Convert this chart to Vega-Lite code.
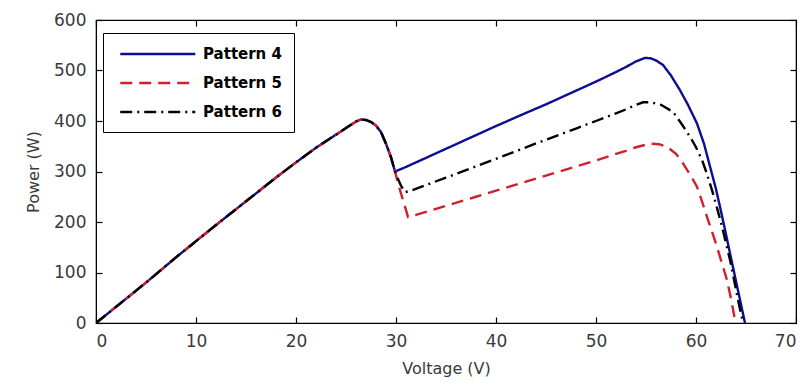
{
  "$schema": "https://vega.github.io/schema/vega-lite/v6.json",
  "width": 700,
  "height": 303,
  "autosize": {"type": "none"},
  "padding": {"left": 96, "top": 20, "right": 12, "bottom": 60},
  "background": "white",
  "config": {
    "view": {"stroke": "#000", "strokeWidth": 1.2},
    "font": "DejaVu Sans",
    "axis": {
      "grid": false,
      "domainColor": "#000",
      "tickColor": "#000",
      "ticks": true,
      "tickSize": -6,
      "tickWidth": 1.2,
      "labelFont": "DejaVu Sans",
      "labelFontSize": 17,
      "labelColor": "#3a3a3a",
      "titleFont": "DejaVu Sans",
      "titleFontSize": 16,
      "titleFontWeight": "normal",
      "titleColor": "#3a3a3a"
    }
  },
  "datasets": {
    "pv": [
      {"s": "Pattern 4", "V": 0, "P": 0}, {"s": "Pattern 4", "V": 2, "P": 32}, {"s": "Pattern 4", "V": 5, "P": 80}, {"s": "Pattern 4", "V": 8, "P": 130}, {"s": "Pattern 4", "V": 10, "P": 162}, {"s": "Pattern 4", "V": 12, "P": 194}, {"s": "Pattern 4", "V": 15, "P": 241}, {"s": "Pattern 4", "V": 18, "P": 288}, {"s": "Pattern 4", "V": 20, "P": 318}, {"s": "Pattern 4", "V": 22, "P": 347}, {"s": "Pattern 4", "V": 24, "P": 373}, {"s": "Pattern 4", "V": 25, "P": 386}, {"s": "Pattern 4", "V": 26, "P": 399}, {"s": "Pattern 4", "V": 26.5, "P": 403}, {"s": "Pattern 4", "V": 27, "P": 402}, {"s": "Pattern 4", "V": 27.5, "P": 398}, {"s": "Pattern 4", "V": 28, "P": 391}, {"s": "Pattern 4", "V": 28.5, "P": 378}, {"s": "Pattern 4", "V": 29, "P": 355}, {"s": "Pattern 4", "V": 29.5, "P": 328}, {"s": "Pattern 4", "V": 29.9, "P": 300},
      {"s": "Pattern 4", "V": 31, "P": 309}, {"s": "Pattern 4", "V": 33, "P": 327}, {"s": "Pattern 4", "V": 35, "P": 345}, {"s": "Pattern 4", "V": 38, "P": 372}, {"s": "Pattern 4", "V": 40, "P": 390}, {"s": "Pattern 4", "V": 43, "P": 416}, {"s": "Pattern 4", "V": 45, "P": 433}, {"s": "Pattern 4", "V": 48, "P": 460}, {"s": "Pattern 4", "V": 50, "P": 478}, {"s": "Pattern 4", "V": 52, "P": 497}, {"s": "Pattern 4", "V": 53, "P": 507}, {"s": "Pattern 4", "V": 54, "P": 518}, {"s": "Pattern 4", "V": 54.9, "P": 525}, {"s": "Pattern 4", "V": 55.5, "P": 524}, {"s": "Pattern 4", "V": 56, "P": 520}, {"s": "Pattern 4", "V": 56.7, "P": 511}, {"s": "Pattern 4", "V": 57.5, "P": 490}, {"s": "Pattern 4", "V": 58.4, "P": 461}, {"s": "Pattern 4", "V": 59.2, "P": 432}, {"s": "Pattern 4", "V": 60.1, "P": 395}, {"s": "Pattern 4", "V": 60.8, "P": 355}, {"s": "Pattern 4", "V": 61.4, "P": 310}, {"s": "Pattern 4", "V": 62, "P": 265}, {"s": "Pattern 4", "V": 62.4, "P": 230}, {"s": "Pattern 4", "V": 62.9, "P": 185}, {"s": "Pattern 4", "V": 63.4, "P": 138}, {"s": "Pattern 4", "V": 63.9, "P": 92}, {"s": "Pattern 4", "V": 64.4, "P": 46}, {"s": "Pattern 4", "V": 64.9, "P": 0},

      {"s": "Pattern 5", "V": 0, "P": 0}, {"s": "Pattern 5", "V": 2, "P": 32}, {"s": "Pattern 5", "V": 5, "P": 80}, {"s": "Pattern 5", "V": 8, "P": 130}, {"s": "Pattern 5", "V": 10, "P": 162}, {"s": "Pattern 5", "V": 12, "P": 194}, {"s": "Pattern 5", "V": 15, "P": 241}, {"s": "Pattern 5", "V": 18, "P": 288}, {"s": "Pattern 5", "V": 20, "P": 318}, {"s": "Pattern 5", "V": 22, "P": 347}, {"s": "Pattern 5", "V": 24, "P": 373}, {"s": "Pattern 5", "V": 25, "P": 386}, {"s": "Pattern 5", "V": 26, "P": 399}, {"s": "Pattern 5", "V": 26.5, "P": 403}, {"s": "Pattern 5", "V": 27, "P": 402}, {"s": "Pattern 5", "V": 27.5, "P": 398}, {"s": "Pattern 5", "V": 28, "P": 391}, {"s": "Pattern 5", "V": 28.5, "P": 378}, {"s": "Pattern 5", "V": 29, "P": 355}, {"s": "Pattern 5", "V": 29.5, "P": 328}, {"s": "Pattern 5", "V": 29.9, "P": 300},
      {"s": "Pattern 5", "V": 30.1, "P": 285}, {"s": "Pattern 5", "V": 30.4, "P": 263}, {"s": "Pattern 5", "V": 30.8, "P": 237}, {"s": "Pattern 5", "V": 31.2, "P": 210}, {"s": "Pattern 5", "V": 32, "P": 214}, {"s": "Pattern 5", "V": 33, "P": 220}, {"s": "Pattern 5", "V": 35, "P": 232}, {"s": "Pattern 5", "V": 38, "P": 250}, {"s": "Pattern 5", "V": 40, "P": 262}, {"s": "Pattern 5", "V": 43, "P": 280}, {"s": "Pattern 5", "V": 45, "P": 292}, {"s": "Pattern 5", "V": 48, "P": 310}, {"s": "Pattern 5", "V": 50, "P": 322}, {"s": "Pattern 5", "V": 52, "P": 335}, {"s": "Pattern 5", "V": 53, "P": 341}, {"s": "Pattern 5", "V": 54, "P": 348}, {"s": "Pattern 5", "V": 55.4, "P": 355}, {"s": "Pattern 5", "V": 56.3, "P": 354}, {"s": "Pattern 5", "V": 57.1, "P": 349}, {"s": "Pattern 5", "V": 58, "P": 335}, {"s": "Pattern 5", "V": 58.7, "P": 316}, {"s": "Pattern 5", "V": 59.4, "P": 294}, {"s": "Pattern 5", "V": 60.1, "P": 270}, {"s": "Pattern 5", "V": 60.6, "P": 241}, {"s": "Pattern 5", "V": 61.1, "P": 210}, {"s": "Pattern 5", "V": 61.6, "P": 181}, {"s": "Pattern 5", "V": 62.1, "P": 151}, {"s": "Pattern 5", "V": 62.6, "P": 118}, {"s": "Pattern 5", "V": 63.1, "P": 85}, {"s": "Pattern 5", "V": 63.5, "P": 48}, {"s": "Pattern 5", "V": 63.9, "P": 6}, {"s": "Pattern 5", "V": 64, "P": 0},

      {"s": "Pattern 6", "V": 0, "P": 0}, {"s": "Pattern 6", "V": 2, "P": 32}, {"s": "Pattern 6", "V": 5, "P": 80}, {"s": "Pattern 6", "V": 8, "P": 130}, {"s": "Pattern 6", "V": 10, "P": 162}, {"s": "Pattern 6", "V": 12, "P": 194}, {"s": "Pattern 6", "V": 15, "P": 241}, {"s": "Pattern 6", "V": 18, "P": 288}, {"s": "Pattern 6", "V": 20, "P": 318}, {"s": "Pattern 6", "V": 22, "P": 347}, {"s": "Pattern 6", "V": 24, "P": 373}, {"s": "Pattern 6", "V": 25, "P": 386}, {"s": "Pattern 6", "V": 26, "P": 399}, {"s": "Pattern 6", "V": 26.5, "P": 403}, {"s": "Pattern 6", "V": 27, "P": 402}, {"s": "Pattern 6", "V": 27.5, "P": 398}, {"s": "Pattern 6", "V": 28, "P": 391}, {"s": "Pattern 6", "V": 28.5, "P": 378}, {"s": "Pattern 6", "V": 29, "P": 355}, {"s": "Pattern 6", "V": 29.5, "P": 328}, {"s": "Pattern 6", "V": 29.9, "P": 300},
      {"s": "Pattern 6", "V": 30.2, "P": 285}, {"s": "Pattern 6", "V": 30.5, "P": 272}, {"s": "Pattern 6", "V": 30.9, "P": 259}, {"s": "Pattern 6", "V": 31.5, "P": 262}, {"s": "Pattern 6", "V": 33, "P": 273}, {"s": "Pattern 6", "V": 35, "P": 288}, {"s": "Pattern 6", "V": 38, "P": 310}, {"s": "Pattern 6", "V": 40, "P": 325}, {"s": "Pattern 6", "V": 43, "P": 348}, {"s": "Pattern 6", "V": 45, "P": 363}, {"s": "Pattern 6", "V": 48, "P": 385}, {"s": "Pattern 6", "V": 50, "P": 400}, {"s": "Pattern 6", "V": 52, "P": 415}, {"s": "Pattern 6", "V": 53, "P": 423}, {"s": "Pattern 6", "V": 54, "P": 432}, {"s": "Pattern 6", "V": 54.7, "P": 437}, {"s": "Pattern 6", "V": 55.5, "P": 437}, {"s": "Pattern 6", "V": 56.5, "P": 432}, {"s": "Pattern 6", "V": 57.7, "P": 418}, {"s": "Pattern 6", "V": 58.5, "P": 396}, {"s": "Pattern 6", "V": 59.4, "P": 369}, {"s": "Pattern 6", "V": 60, "P": 348}, {"s": "Pattern 6", "V": 60.6, "P": 323}, {"s": "Pattern 6", "V": 61.1, "P": 295}, {"s": "Pattern 6", "V": 61.6, "P": 263}, {"s": "Pattern 6", "V": 62.1, "P": 228}, {"s": "Pattern 6", "V": 62.6, "P": 191}, {"s": "Pattern 6", "V": 63, "P": 158}, {"s": "Pattern 6", "V": 63.4, "P": 125}, {"s": "Pattern 6", "V": 63.8, "P": 86}, {"s": "Pattern 6", "V": 64.2, "P": 46}, {"s": "Pattern 6", "V": 64.7, "P": 0}
    ]
  },
  "data": {"name": "pv"},
  "layer": [
    {
      "mark": {"type": "line", "strokeWidth": 2.4, "clip": true},
      "encoding": {
        "x": {
          "field": "V", "type": "quantitative",
          "scale": {"domain": [0, 70], "nice": false},
          "axis": {"title": "Voltage (V)", "values": [0, 10, 20, 30, 40, 50, 60, 70], "labelPadding": 16, "titlePadding": 11}
        },
        "y": {
          "field": "P", "type": "quantitative",
          "scale": {"domain": [0, 600], "nice": false},
          "axis": {"title": "Power (W)", "values": [0, 100, 200, 300, 400, 500, 600], "labelPadding": 16, "titlePadding": 12}
        },
        "color": {
          "field": "s", "type": "nominal",
          "scale": {"domain": ["Pattern 4", "Pattern 5", "Pattern 6"], "range": ["#0c0c94", "#d0202e", "#000000"]},
          "legend": {
            "title": null,
            "orient": "none",
            "legendX": 7,
            "legendY": 13,
            "fillColor": "white",
            "strokeColor": "#000",
            "padding": 12,
            "symbolType": "M-0.5,0H9.5",
            "symbolSize": 225,
            "symbolFillColor": "transparent",
            "symbolStrokeWidth": 2.5,
            "labelFont": "DejaVu Sans",
            "labelFontSize": 15,
            "labelFontWeight": "bold",
            "labelColor": "#000",
            "labelOffset": 70,
            "rowPadding": 12
          }
        },
        "strokeDash": {
          "field": "s", "type": "nominal",
          "scale": {"domain": ["Pattern 4", "Pattern 5", "Pattern 6"], "range": [[1, 0], [12, 7], [12, 5, 2, 5]]}
        },
        "order": {"field": "V", "type": "quantitative"}
      }
    },
    {
      "mark": {"type": "line", "opacity": 0, "clip": true},
      "encoding": {
        "x": {
          "field": "V", "type": "quantitative",
          "axis": {"orient": "top", "title": null, "labels": false, "values": [0, 10, 20, 30, 40, 50, 60, 70]}
        },
        "y": {
          "field": "P", "type": "quantitative",
          "axis": {"orient": "right", "title": null, "labels": false, "values": [0, 100, 200, 300, 400, 500, 600]}
        },
        "detail": {"field": "s", "type": "nominal"}
      }
    }
  ],
  "resolve": {"axis": {"x": "independent", "y": "independent"}}
}
